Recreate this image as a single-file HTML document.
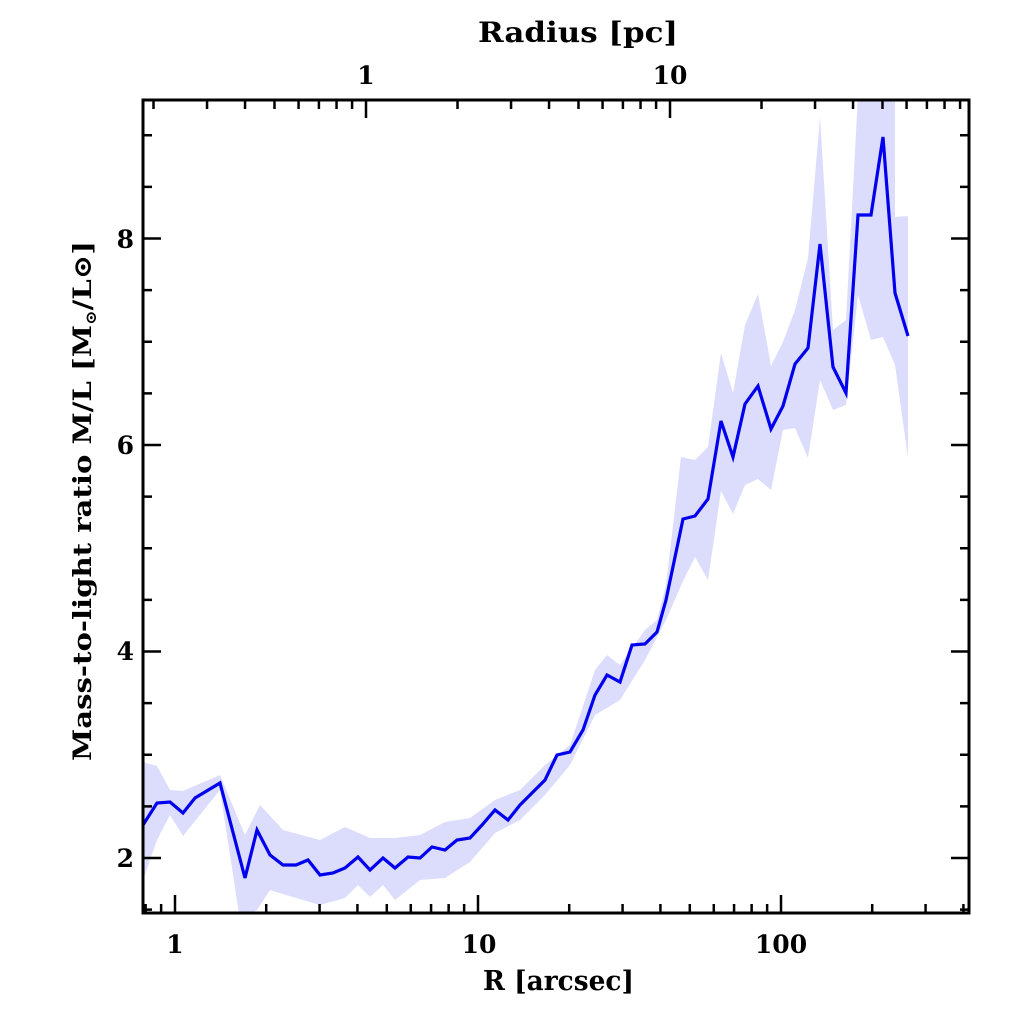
<!DOCTYPE html>
<html><head><meta charset="utf-8"><style>
html,body{margin:0;padding:0;background:#fff}
svg{display:block}
text{font-family:"DejaVu Serif","Liberation Serif",serif;font-weight:bold;fill:#000}
</style></head><body>
<svg id="s" width="1024" height="1024" viewBox="0 0 1024 1024" xmlns="http://www.w3.org/2000/svg">
<defs><clipPath id="c"><rect x="143" y="100" width="826" height="813"/></clipPath></defs>
<g clip-path="url(#c)">
<polygon fill="#dcdcfc" points="
143,762 157,766 170,790 183,791 220,775 245,835 260,805 283,830 320,840 345,827 370,838 395,838 420,835 445,822 470,818 495,800 520,790 545,765 570,745 595,670 607,655 620,665 645,630 657,620 666,585 681,457 695,460 708,447 721,353 733,393 745,325 758,294 771,366 783,342 795,310 808,258 820,117 833,330 846,320 858,95 895,95 895,217 908,216
908,458 895,365 883,337 871,340 858,295 846,405 833,410 820,380 808,458 795,428 783,430 771,490 758,479 745,485 733,514 721,491 708,580 695,557 683,581 666,620 645,660 620,700 595,715 570,765 545,795 520,820 495,833 470,862 445,878 420,880 395,900 383,885 370,897 358,885 345,898 320,905 296,898 270,890 257,910 240,920 220,790 183,836 170,815 157,840 143,880"/>
<polyline fill="none" stroke="#0000ee" stroke-width="3.2" stroke-linejoin="miter" points="
143,825 157,803 170,802 183,813 195,798 220,783 245,878 257,830 270,855 283,865 296,865 308,860 320,875 333,873 345,868 358,857 370,870 383,858 395,868 408,857 420,858 432,847 445,850 457,840 470,838 482,825 495,810 508,820 520,805 545,780 557,755 570,752 583,730 595,695 607,675 620,682 632,645 645,644 657,632 666,600 683,519 695,516 708,499 721,421 733,457 745,404 758,386 771,429 783,406 795,364 808,348 820,244 833,367 846,393 858,215 871,215 883,137 895,293 908,336"/>
</g>
<g id="t" stroke="#000" stroke-width="2.5"></g>
<rect x="143" y="100" width="826" height="813" fill="none" stroke="#000" stroke-width="3"/>
<g font-size="25" text-anchor="middle">
<text x="175" y="953">1</text>
<text x="479" y="953">10</text>
<text x="781" y="953">100</text>
<text x="366" y="84">1</text>
<text x="670" y="84">10</text>
</g>
<g font-size="25" text-anchor="end">
<text x="134" y="867">2</text>
<text x="134" y="660">4</text>
<text x="134" y="454">6</text>
<text x="134" y="248">8</text>
</g>
<text x="483" y="990" font-size="27" textLength="151" lengthAdjust="spacingAndGlyphs">R [arcsec]</text>
<text x="478" y="42" font-size="28" textLength="200" lengthAdjust="spacingAndGlyphs">Radius [pc]</text>
<text transform="translate(91,761) rotate(-90)" font-size="25" textLength="520" lengthAdjust="spacingAndGlyphs">Mass-to-light ratio M/L [M<tspan font-size="15" dy="5">⊙</tspan><tspan dy="-5">/L⊙]</tspan></text>
</svg>
<script>
var g=document.getElementById('t'),L=143,R=969,T=100,B=913,s='';
function ln(a,b,c,d){s+='<line x1="'+a+'" y1="'+b+'" x2="'+c+'" y2="'+d+'"/>';}
for(var d=-1;d<3;d++)for(var k=1;k<10;k++){var x=175+303*(d+Math.log10(k));if(x<L+1||x>R-1)continue;var l=k==1?18:9;ln(x,B,x,B-l);}
for(var d=-1;d<2;d++)for(var k=1;k<10;k++){var x=366+304*(d+Math.log10(k));if(x<L+1||x>R-1)continue;var l=k==1?18:9;ln(x,T,x,T+l);}
for(var v=1.5;v<9.4;v+=0.5){var y=858-(v-2)*103.25;if(y>B-1||y<T+1)continue;var l=(Math.abs(v%2)<0.01)?18:9;ln(L,y,L+l,y);ln(R,y,R-l,y);}
g.innerHTML=s;
</script>
</body></html>
